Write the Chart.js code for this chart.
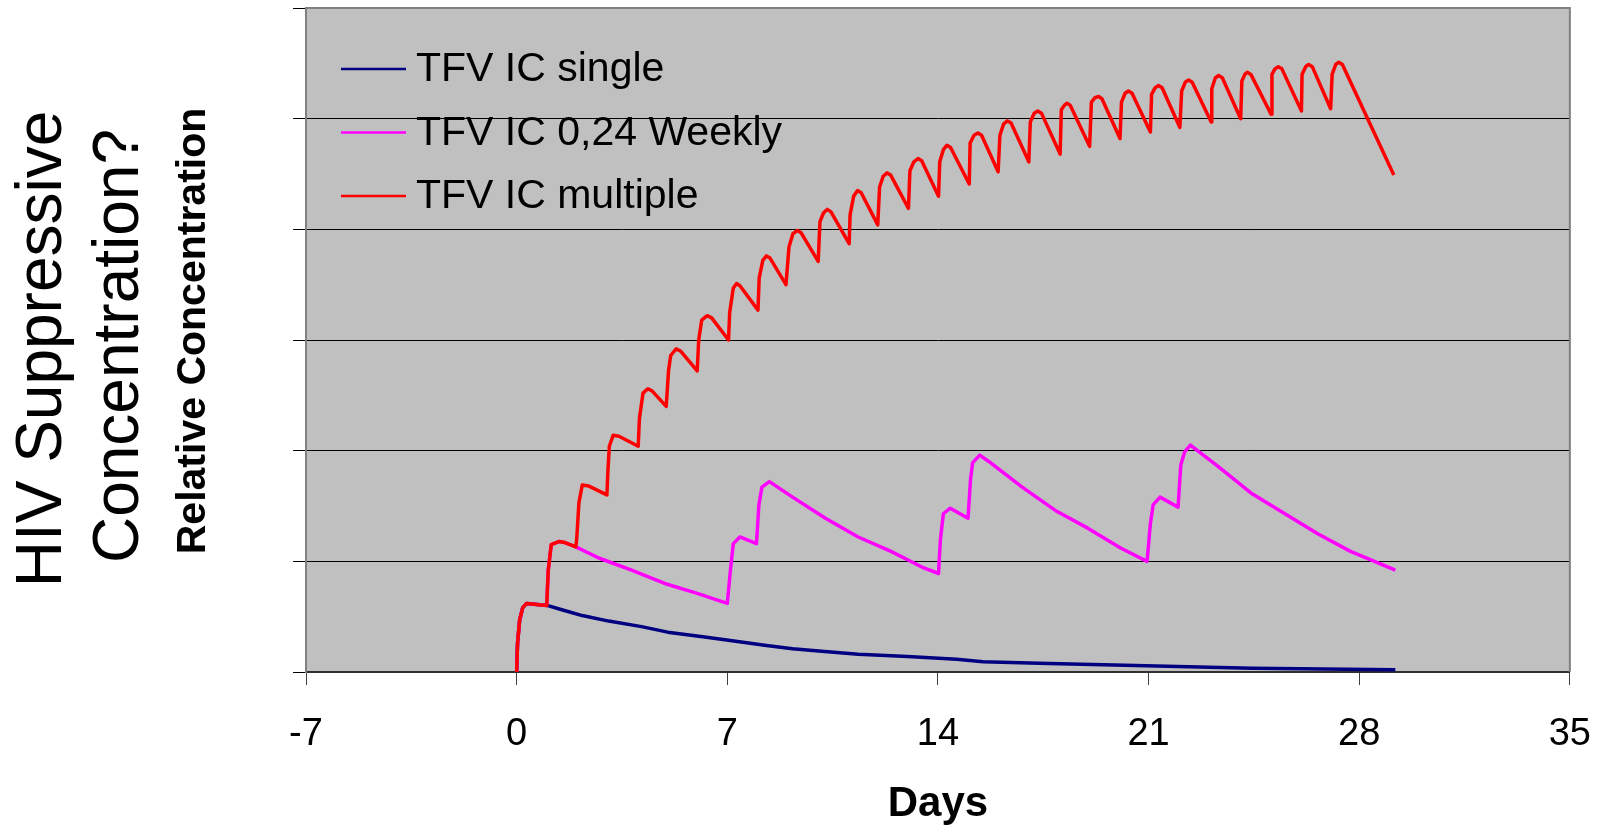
<!DOCTYPE html>
<html>
<head>
<meta charset="utf-8">
<script src="https://cdn.jsdelivr.net/npm/chart.js@4.4.1/dist/chart.umd.min.js"></script>
<style>
    html, body { margin: 0; padding: 0; background: #ffffff; }
    #chart { display: block; }
</style>
</head>
<body>
<canvas id="chart" width="1618" height="830"></canvas>
<script>
// x ticks (days)
var dayMin = -7, dayMax = 35, dayStep = 7;

// TFV IC single
var singleDays = [0, 0.03, 0.1, 0.2, 0.33, 1.04, 1.53, 2.18, 3.06, 4.15, 5.02, 6.12, 6.98, 8.3, 9.17, 10.04, 11.35, 12.99, 14.62, 15.5, 17.35, 20.2, 24.45, 29.2];
var singleValues = [0, 0.26, 0.47, 0.58, 0.62, 0.60, 0.56, 0.51, 0.46, 0.41, 0.36, 0.32, 0.29, 0.24, 0.21, 0.19, 0.16, 0.14, 0.115, 0.093, 0.08, 0.06, 0.035, 0.02];

// TFV IC 0,24 Weekly
var weeklyDays = [0, 0.03, 0.1, 0.2, 0.33, 1.0, 1.05, 1.15, 1.42, 1.6, 1.97, 2.73, 3.82, 4.92, 6.0, 7.0,
    7.1, 7.2, 7.42, 7.97, 8.05, 8.15, 8.4, 9.17, 10.26, 11.35, 12.44, 13.53, 14.02,
    14.08, 14.18, 14.41, 15.0, 15.08, 15.15, 15.39, 15.7, 16.8, 17.9, 18.98, 20.07, 20.95,
    21.06, 21.15, 21.38, 21.98, 22.07, 22.2, 22.39, 23.35, 24.44, 25.53, 26.62, 27.71, 29.2];
var weeklyValues = [0, 0.26, 0.47, 0.58, 0.62, 0.60, 0.92, 1.15, 1.18, 1.17, 1.13, 1.03, 0.92, 0.80, 0.71, 0.62,
    0.91, 1.16, 1.22, 1.16, 1.51, 1.67, 1.72, 1.58, 1.39, 1.22, 1.09, 0.94, 0.89,
    1.19, 1.43, 1.48, 1.39, 1.73, 1.89, 1.96, 1.90, 1.67, 1.46, 1.30, 1.12, 1.00,
    1.34, 1.51, 1.58, 1.49, 1.87, 1.99, 2.05, 1.85, 1.61, 1.43, 1.25, 1.09, 0.92];

// TFV IC multiple
var multipleDays = [
    0, 0.03, 0.1, 0.2, 0.33,
    1.0, 1.05, 1.15, 1.42, 1.6, 1.97,
    2.0, 2.07, 2.18, 2.4,
    3.0, 3.03, 3.08, 3.21, 3.4,
    4.04, 4.08, 4.2, 4.36, 4.5,
    4.97, 5.05, 5.12, 5.3, 5.45,
    6.0, 6.05, 6.15, 6.33, 6.48,
    7.04, 7.08, 7.2, 7.31, 7.42,
    8.02, 8.06, 8.18, 8.3, 8.42,
    8.95, 9.05, 9.18, 9.33, 9.45,
    10.02, 10.08, 10.2, 10.32, 10.44,
    11.05, 11.08, 11.2, 11.33, 11.45,
    12.0, 12.06, 12.18, 12.31, 12.43,
    13.02, 13.07, 13.2, 13.34, 13.46,
    14.02, 14.06, 14.18, 14.3, 14.42,
    15.04, 15.07, 15.2, 15.33, 15.45,
    16.0, 16.06, 16.18, 16.31, 16.43,
    17.02, 17.07, 17.2, 17.32, 17.44,
    18.06, 18.1, 18.2, 18.29, 18.4,
    19.04, 19.1, 19.22, 19.34, 19.45,
    20.05, 20.1, 20.22, 20.33, 20.45,
    21.06, 21.1, 21.22, 21.33, 21.45,
    22.04, 22.1, 22.22, 22.33, 22.45,
    23.08, 23.1, 23.22, 23.33, 23.45,
    24.06, 24.1, 24.2, 24.28, 24.4,
    25.07, 25.1, 25.2, 25.31, 25.43,
    26.08, 26.1, 26.22, 26.32, 26.44,
    27.05, 27.1, 27.22, 27.32, 27.44,
    29.15];
var multipleValues = [
    0, 0.26, 0.47, 0.58, 0.62,
    0.60, 0.92, 1.15, 1.18, 1.17, 1.13,
    1.22, 1.53, 1.69, 1.68,
    1.60, 1.80, 2.04, 2.14, 2.13,
    2.04, 2.29, 2.52, 2.56, 2.54,
    2.40, 2.73, 2.86, 2.92, 2.90,
    2.72, 3.0, 3.18, 3.22, 3.20,
    3.0, 3.25, 3.47, 3.51, 3.49,
    3.27, 3.56, 3.72, 3.76, 3.74,
    3.50, 3.84, 3.96, 3.99, 3.97,
    3.71, 4.07, 4.15, 4.18, 4.16,
    3.87, 4.13, 4.30, 4.35, 4.33,
    4.04, 4.38, 4.48, 4.51, 4.49,
    4.19, 4.53, 4.61, 4.64, 4.62,
    4.30, 4.61, 4.72, 4.76, 4.74,
    4.41, 4.78, 4.85, 4.87, 4.85,
    4.52, 4.85, 4.95, 4.98, 4.96,
    4.61, 4.97, 5.05, 5.07, 5.05,
    4.68, 5.08, 5.12, 5.14, 5.12,
    4.75, 5.15, 5.19, 5.20, 5.18,
    4.82, 5.15, 5.23, 5.25, 5.23,
    4.88, 5.22, 5.28, 5.30, 5.28,
    4.92, 5.25, 5.33, 5.35, 5.33,
    4.97, 5.27, 5.37, 5.39, 5.37,
    5.00, 5.34, 5.40, 5.42, 5.40,
    5.04, 5.40, 5.45, 5.47, 5.45,
    5.07, 5.40, 5.47, 5.49, 5.47,
    5.09, 5.40, 5.49, 5.51, 5.49,
    4.49];

var seriesLabels = ["TFV IC single", "TFV IC 0,24 Weekly", "TFV IC multiple"];
var seriesColors = ["#000080", "#ff00ff", "#ff0000"];

var FONT = "'Liberation Sans', Arial, sans-serif";

function toPoints(days, values) {
    return days.map(function(d, i) { return { x: d, y: values[i] }; });
}

// gray plot area + top/right frame
var plotFrame = {
    id: 'plotFrame',
    beforeDraw: function(chart) {
        var a = chart.chartArea, ctx = chart.ctx;
        ctx.save();
        ctx.fillStyle = '#c0c0c0';
        ctx.fillRect(a.left, a.top, a.right - a.left, a.bottom - a.top);
        ctx.restore();
    },
    afterDraw: function(chart) {
        var a = chart.chartArea, ctx = chart.ctx;
        ctx.save();
        ctx.strokeStyle = '#808080';
        ctx.lineWidth = 2;
        ctx.beginPath();
        ctx.moveTo(a.left, a.top);
        ctx.lineTo(a.right, a.top);
        ctx.lineTo(a.right, a.bottom);
        ctx.stroke();
        ctx.restore();
    }
};

// legend inside the plot, top left
var plotLegend = {
    id: 'plotLegend',
    afterDraw: function(chart) {
        var a = chart.chartArea, ctx = chart.ctx;
        ctx.save();
        ctx.font = '41px ' + FONT;
        ctx.textBaseline = 'alphabetic';
        ctx.textAlign = 'left';
        chart.data.datasets.forEach(function(ds, i) {
            var y = a.top + 61 + i * 63.5;
            ctx.strokeStyle = ds.borderColor;
            ctx.lineWidth = 2.5;
            ctx.beginPath();
            ctx.moveTo(a.left + 35, y);
            ctx.lineTo(a.left + 100, y);
            ctx.stroke();
            ctx.fillStyle = '#000';
            ctx.fillText(ds.label, a.left + 110, y + 12);
        });
        ctx.restore();
    }
};

// rotated y titles
function drawVertical(ctx, text, font, x, y) {
    ctx.save();
    ctx.translate(x, y);
    ctx.rotate(-Math.PI / 2);
    ctx.font = font;
    ctx.textAlign = 'center';
    ctx.textBaseline = 'alphabetic';
    ctx.fillStyle = '#000';
    ctx.fillText(text, 0, 0);
    ctx.restore();
}

var yTitles = {
    id: 'yTitles',
    afterDraw: function(chart) {
        var ctx = chart.ctx;
        drawVertical(ctx, 'HIV Suppressive', '64px ' + FONT, 61, 349);
        drawVertical(ctx, 'Concentration?', '64px ' + FONT, 138, 346);
        drawVertical(ctx, 'Relative Concentration', 'bold 41px ' + FONT, 205, 331);
    }
};

var ctx = document.getElementById("chart").getContext("2d");
new Chart(ctx, {
    type: 'line',
    data: {
        datasets: [{
            label: seriesLabels[0],
            data: toPoints(singleDays, singleValues),
            borderColor: seriesColors[0],
            order: 3
        }, {
            label: seriesLabels[1],
            data: toPoints(weeklyDays, weeklyValues),
            borderColor: seriesColors[1],
            order: 2
        }, {
            label: seriesLabels[2],
            data: toPoints(multipleDays, multipleValues),
            borderColor: seriesColors[2],
            order: 1
        }]
    },
    options: {
        responsive: false,
        animation: false,
        events: [],
        layout: { padding: { left: 293, top: 8, right: 29, bottom: 0 } },
        elements: {
            line: { borderWidth: 3.5, tension: 0, fill: false, borderJoinStyle: 'round' },
            point: { radius: 0 }
        },
        plugins: {
            legend: { display: false },
            tooltip: { enabled: false }
        },
        scales: {
            x: {
                type: 'linear',
                min: dayMin,
                max: dayMax,
                ticks: {
                    stepSize: dayStep,
                    color: '#000',
                    padding: 27,
                    font: { family: FONT, size: 38 }
                },
                grid: {
                    drawOnChartArea: false,
                    drawTicks: true,
                    tickLength: 13,
                    color: '#404040'
                },
                border: { color: '#303030', width: 2 },
                title: {
                    display: true,
                    text: 'Days',
                    color: '#000',
                    font: { family: FONT, size: 42, weight: 'bold' },
                    padding: { top: -5, bottom: 0 }
                }
            },
            y: {
                type: 'linear',
                min: 0,
                max: 6,
                ticks: { stepSize: 1, display: false },
                grid: {
                    drawTicks: true,
                    tickLength: 13,
                    color: function(c) { return c.tick && c.tick.value === 6 ? '#808080' : '#000'; },
                    tickColor: '#000',
                    lineWidth: 1
                },
                border: { color: '#808080', width: 2 }
            }
        }
    },
    plugins: [plotFrame, plotLegend, yTitles]
});
</script>
</body>
</html>
